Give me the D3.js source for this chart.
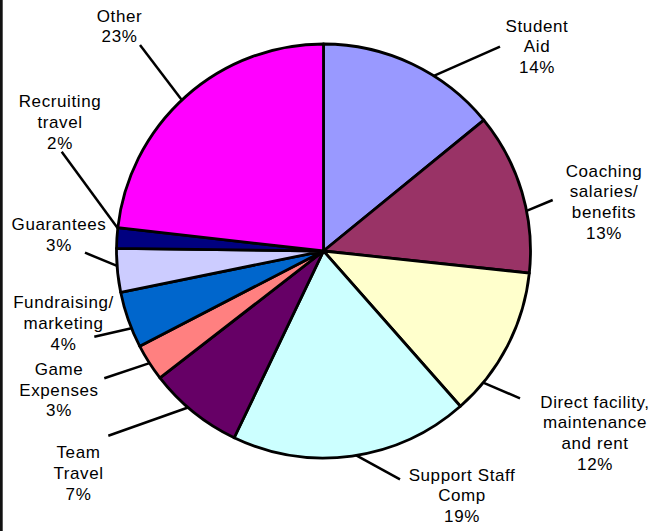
<!DOCTYPE html>
<html>
<head>
<meta charset="utf-8">
<script src="https://cdn.jsdelivr.net/npm/d3@7"></script>
<style>
  html, body { margin: 0; padding: 0; background: #fff; }
  svg { display: block; }
  text { font-family: "Liberation Sans", Arial, sans-serif; font-size: 17px; letter-spacing: 0.6px; fill: #000; }
</style>
</head>
<body>
<svg id="chart" width="663" height="531"></svg>
<script>
// ---- data ----
const categories = ["Student Aid", "Coaching salaries/ benefits", "Direct facility, maintenance and rent",
  "Support Staff Comp", "Team Travel", "Game Expenses", "Fundraising/ marketing",
  "Guarantees", "Recruiting travel", "Other"];
const labelLines = [
  ["Student", "Aid"],
  ["Coaching", "salaries/", "benefits"],
  ["Direct facility,", "maintenance", "and rent"],
  ["Support Staff", "Comp"],
  ["Team", "Travel"],
  ["Game", "Expenses"],
  ["Fundraising/", "marketing"],
  ["Guarantees"],
  ["Recruiting", "travel"],
  ["Other"]
];
const values = [14.1, 12.6, 11.8, 18.6, 7.4, 2.9, 4.4, 3.4, 1.6, 23.2];
const colors = ["#9999FF", "#993366", "#FFFFCC", "#CCFFFF", "#660066", "#FF8080", "#0066CC", "#CCCCFF", "#000080", "#FF00FF"];

// ---- layout (label placement) ----
const cx = 323.5, cy = 251, R = 207, lineH = 20.7;
const labelLayout = [
  { x: 537, y: 31.5, ex: 500, ey: 46.7, a: 32.2 },
  { x: 604, y: 176.7, ex: 552.7, ey: 200, a: 78.8 },
  { x: 595, y: 407.7, ex: 520, ey: 398.3, a: 129.5 },
  { x: 462, y: 480.7, ex: 400, ey: 479.3, a: 170.9 },
  { x: 78.5, y: 458.3, ex: 108.3, ey: 435.7, a: 220.9 },
  { x: 59, y: 375, ex: 104.3, ey: 378.3, a: 237.2 },
  { x: 63.5, y: 308.3, ex: 94.3, ey: 336.7, a: 248.1 },
  { x: 59, y: 230, ex: 85, ey: 252.7, a: 265.9 },
  { x: 60, y: 107.3, ex: 61.7, ey: 151.7, a: 276.3 },
  { x: 119.5, y: 21.7, ex: 140, ey: 45, a: 316.8 }
];

const svg = d3.select("#chart");
svg.append("rect").attr("x", 0).attr("y", 0).attr("width", 663).attr("height", 531).attr("fill", "#fff");
svg.append("rect").attr("x", 0).attr("y", 0).attr("width", 2.7).attr("height", 531).attr("fill", "#111");

const total = d3.sum(values);
const pie = d3.pie().sort(null).value(d => d).startAngle(0).endAngle(2 * Math.PI);
const arcs = pie(values);
const arc = d3.arc().innerRadius(0).outerRadius(R);

const g = svg.append("g").attr("transform", `translate(${cx},${cy})`);
g.selectAll("path.slice").data(arcs).join("path")
  .attr("class", "slice")
  .attr("d", arc)
  .attr("fill", (d, i) => colors[i])
  .attr("stroke", "#000")
  .attr("stroke-width", 2.8)
  .attr("stroke-linejoin", "round");

// leader lines
const toRad = d3.scaleLinear().domain([0, 360]).range([0, 2 * Math.PI]);
svg.selectAll("line.leader").data(labelLayout).join("line")
  .attr("class", "leader")
  .attr("x1", d => cx + R * Math.sin(toRad(d.a)))
  .attr("y1", d => cy - R * Math.cos(toRad(d.a)))
  .attr("x2", d => d.ex)
  .attr("y2", d => d.ey)
  .attr("stroke", "#000")
  .attr("stroke-width", 2.5);

// labels
const fmt = v => Math.round(v / total * 100) + "%";
labelLayout.forEach((L, i) => {
  const lines = labelLines[i].concat([fmt(values[i])]);
  const t = svg.append("text").attr("text-anchor", "middle");
  lines.forEach((s, j) => {
    t.append("tspan").attr("x", L.x).attr("y", L.y + j * lineH).text(s);
  });
});
</script>
</body>
</html>
